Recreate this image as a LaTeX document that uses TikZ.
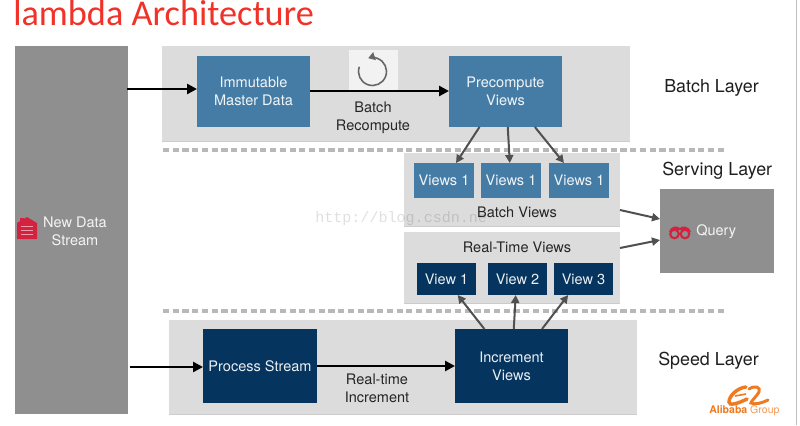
\documentclass[tikz,border=0pt]{standalone}
\usepackage{fontspec}
\setmainfont{TeX Gyre Heros}
\newfontfamily\titlefont{Carlito}
\newfontfamily\wmfont{Liberation Mono}
\usetikzlibrary{calc,arrows.meta}
\definecolor{panelgray}{HTML}{DCDCDC}
\definecolor{blockgray}{HTML}{8F8F8F}
\definecolor{batchblue}{HTML}{457CA5}
\definecolor{speedblue}{HTML}{05345F}
\definecolor{dashgray}{HTML}{B8B8B8}
\definecolor{arrowgray}{HTML}{505050}
\definecolor{iconred}{HTML}{D4213F}
\definecolor{aliorange}{HTML}{EE7A22}
\tikzset{
  x=0.75pt,y=-0.75pt,
  box/.style={anchor=north west,inner sep=0,outer sep=0,align=center,font=\fontsize{10.9pt}{13.4pt}\selectfont},
  panel/.style={box,fill=panelgray,preaction={fill=black!20,transform canvas={yshift=-0.9pt}}},
  batchbox/.style={box,fill=batchblue,text=white!92!batchblue},
  speedbox/.style={box,fill=speedblue,text=white!92!speedblue},
  greybox/.style={box,fill=blockgray,text=white!90!blockgray},
  caption/.style={inner sep=0,align=center,text=black!85,font=\fontsize{10.9pt}{13.4pt}\selectfont},
  layer/.style={inner sep=0,text=black!88,font=\fontsize{13.4pt}{15pt}\selectfont},
  thick arrow/.style={-{Triangle[length=7.5pt,width=7.5pt]},line width=2.2pt,black},
  thin arrow/.style={-{Triangle[length=6pt,width=6pt]},line width=1.5pt,arrowgray},
  divider/.style={line width=2.6pt,dashgray,dash pattern=on 4.6pt off 2.7pt},
}
\begin{document}
\begin{tikzpicture}
\useasboundingbox (0,0) rectangle (800,425);
\fill[white] (0,0) rectangle (800,425);
\draw[black!25,line width=0.9pt] (796.5,0) -- (796.5,425);
% title
\node[anchor=base west,inner sep=0,text={rgb,255:red,240;green,50;blue,40},font=\titlefont\fontsize{27.2pt}{30pt}\selectfont] (title) at (13,25.5) {lambda Architecture};
% panels
\node[greybox,minimum width=113*0.75pt,minimum height=368*0.75pt] (stream) at (15,46) {};
\node[panel,minimum width=468*0.75pt,minimum height=95*0.75pt] (batch) at (162,46) {};
\node[panel,minimum width=216*0.75pt,minimum height=73*0.75pt] (bviews) at (404,153) {};
\node[panel,minimum width=216*0.75pt,minimum height=71*0.75pt] (rviews) at (404,232) {};
\node[panel,minimum width=468*0.75pt,minimum height=94*0.75pt] (speed) at (169,320) {};
\fill[white!62!panelgray] (349,50) rectangle (398,90);
% dividers
\coordinate (d1a) at (163,150); \coordinate (d1b) at (727,150);
\coordinate (d2a) at (163,311); \coordinate (d2b) at (727,311);
\draw[divider] (d1a) -- (d1b);
\draw[divider] (d2a) -- (d2b);
% boxes
\node[batchbox,minimum width=113*0.75pt,minimum height=71*0.75pt] (master) at (197,56) {Immutable\\Master Data};
\node[batchbox,minimum width=113*0.75pt,minimum height=71*0.75pt] (pre) at (449,56) {Precompute\\Views};
\node[batchbox,minimum width=60*0.75pt,minimum height=35*0.75pt] (b1) at (414,163) {Views 1};
\node[batchbox,minimum width=60*0.75pt,minimum height=35*0.75pt] (b2) at (481,163) {Views 1};
\node[batchbox,minimum width=60*0.75pt,minimum height=35*0.75pt] (b3) at (549,163) {Views 1};
\node[speedbox,minimum width=59*0.75pt,minimum height=32*0.75pt] (r1) at (417,263) {View 1};
\node[speedbox,minimum width=59*0.75pt,minimum height=32*0.75pt] (r2) at (488,263) {View 2};
\node[speedbox,minimum width=59*0.75pt,minimum height=32*0.75pt] (r3) at (554,263) {View 3};
\node[speedbox,minimum width=114*0.75pt,minimum height=74*0.75pt] (proc) at (203,329) {Process Stream};
\node[speedbox,minimum width=113*0.75pt,minimum height=74*0.75pt] (inc) at (455,329) {Increment\\Views};
\node[greybox,minimum width=114*0.75pt,minimum height=84*0.75pt] (query) at (660,189) {};
% captions
\node[caption] (cbr) at (373,118) {Batch\\Recompute};
\node[caption] (cbv) at (517,212) {Batch Views};
\node[caption] (crv) at (517,247) {Real-Time Views};
\node[caption] (crt) at (377,388) {Real-time\\Increment};
\node[layer,anchor=west] (lb) at (664,88) {Batch Layer};
\node[layer,anchor=west] (ls) at (662,171) {Serving Layer};
\node[layer,anchor=west] (lsp) at (658,361) {Speed Layer};
% stream label and icon
\node[caption,text=white!90!blockgray] (nds) at (75,231) {New Data\\Stream};
\fill[iconred] (17,239) -- (17,223) -- (20,221) -- (20,218) -- (24,218) -- (24,219) -- (27,217) -- (37,223) -- (37,239) -- cycle;
\draw[white!55!iconred,line width=0.3pt] (21,226) -- (33,226) (21,230) -- (33,230) (21,234) -- (33,234);
% query label and icon
\node[caption,anchor=west,text=white!90!blockgray] (ql) at (696,232) {Query};
\draw[iconred,line width=1.6pt] (674.5,234) circle (4.3) (685,234) circle (4.3);
\fill[iconred] (669,232) .. controls (671,225.5) and (677,225.5) .. (679.8,228) .. controls (682.5,225.5) and (688.5,225.5) .. (691,232) -- (686,230) -- (674,230) -- cycle;
% recompute icon
\draw[black!60,line width=1.2pt,-{Triangle[length=5pt,width=6pt]}] ($(372.5,71.5)+(-160:14)$) arc[start angle=-160,end angle=-468,radius=14];
% connectors
\draw[thick arrow] ($(stream.north east)+(-1,43)$) -- ($(master.west)+(0,-2.5)$);
\draw[thick arrow] ($(master.east)+(0,-0.5)$) -- ($(pre.west)+(0,-0.5)$);
\draw[thick arrow] ($(stream.south east)+(2,-47)$) -- ($(proc.west)+(0,1)$);
\draw[thick arrow] (proc.east) -- (inc.west);
\draw[thin arrow] ($(pre.south west)!.27!(pre.south east)$) -- ($(b1.north west)!.7!(b1.north east)$);
\draw[thin arrow] ($(pre.south west)!.52!(pre.south east)$) -- ($(b2.north west)!.48!(b2.north east)$);
\draw[thin arrow] ($(pre.south west)!.76!(pre.south east)$) -- ($(b3.north west)!.25!(b3.north east)$);
\draw[thin arrow] ($(inc.north west)!.26!(inc.north east)$) -- ($(r1.south west)!.69!(r1.south east)$);
\draw[thin arrow] ($(inc.north west)!.52!(inc.north east)$) -- ($(r2.south west)!.47!(r2.south east)$);
\draw[thin arrow] ($(inc.north west)!.77!(inc.north east)$) -- ($(r3.south west)!.24!(r3.south east)$);
\draw[thin arrow] ($(bviews.south east)+(0,-16)$) -- ($(query.north west)+(0,30)$);
\draw[thin arrow] ($(rviews.north east)+(0,16)$) -- ($(query.north west)+(0,51)$);
% logo
\draw[aliorange,line width=2.6pt,line cap=round] (746,387) .. controls (737,388) and (729,396) .. (729,402) .. controls (729,406) and (737,404) .. (747,399);
\draw[aliorange,line width=1.2pt] (735,396) -- (746,394);
\draw[aliorange,line width=2.2pt,line cap=round] (749,389) .. controls (755,385) and (761,387) .. (759,392) .. controls (757,396) and (751,401) .. (751,403) .. controls (755,405) and (762,403) .. (768,400);
\node[inner sep=0,anchor=base west,font=\fontsize{7.9pt}{9pt}\selectfont] (logo) at (709,413.5) {\textcolor{aliorange}{\textbf{Alibaba}} \textcolor{aliorange!75}{Group}};
% watermark
\node[inner sep=0,anchor=base west,opacity=.12,text=black,font=\wmfont\fontsize{11.3pt}{12pt}\selectfont] (wm) at (315,222) {http://blog.csdn.ne};
\end{tikzpicture}
\end{document}
